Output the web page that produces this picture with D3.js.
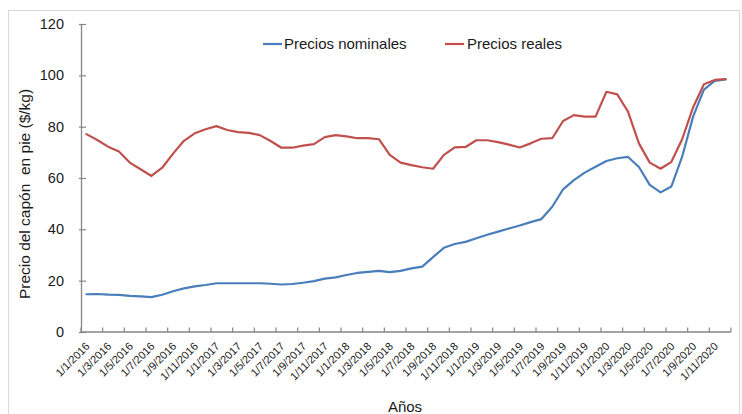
<!DOCTYPE html>
<html>
<head>
<meta charset="utf-8">
<script src="https://cdn.jsdelivr.net/npm/d3@7"></script>
<style>
  html, body { margin: 0; padding: 0; background: #fff; }
  svg { display: block; font-family: "Liberation Sans", Arial, sans-serif; }
</style>
</head>
<body>
<svg id="chart" width="742" height="414"></svg>
<script>
// ---- Data ----
const categories = [];
for (let yr = 2016; yr <= 2020; yr++) for (let m = 1; m <= 12; m++) categories.push("1/" + m + "/" + yr);

const tickLabels = [
  "1/1/2016","1/3/2016","1/5/2016","1/7/2016","1/9/2016","1/11/2016",
  "1/1/2017","1/3/2017","1/5/2017","1/7/2017","1/9/2017","1/11/2017",
  "1/1/2018","1/3/2018","1/5/2018","1/7/2018","1/9/2018","1/11/2018",
  "1/1/2019","1/3/2019","1/5/2019","1/7/2019","1/9/2019","1/11/2019",
  "1/1/2020","1/3/2020","1/5/2020","1/7/2020","1/9/2020","1/11/2020"
];

const preciosNominales = [
  14.7, 14.8, 14.6, 14.5, 14.1, 13.9, 13.6, 14.5, 15.9, 17.0,
  17.8, 18.3, 19.0, 19.0, 19.0, 19.0, 19.0, 18.8, 18.5, 18.7,
  19.2, 19.8, 20.8, 21.3, 22.2, 23.0, 23.4, 23.8, 23.3, 23.8,
  24.8, 25.5, 29.2, 32.8, 34.3, 35.1, 36.5, 37.9, 39.1, 40.3,
  41.5, 42.8, 44.0, 48.8, 55.6, 59.2, 62.1, 64.4, 66.6, 67.7,
  68.2, 64.3, 57.3, 54.4, 56.7, 68.4, 83.9, 94.4, 97.8, 98.4
];

const preciosReales = [
  77.1, 74.8, 72.2, 70.3, 66.0, 63.4, 60.8, 64.0, 69.5, 74.5,
  77.4, 79.0, 80.2, 78.7, 77.9, 77.6, 76.7, 74.4, 71.8, 71.8,
  72.6, 73.2, 75.9, 76.7, 76.2, 75.5, 75.5, 75.1, 69.0, 66.0,
  65.0, 64.2, 63.6, 69.0, 71.9, 72.1, 74.7, 74.7, 74.0, 73.0,
  71.9, 73.5, 75.3, 75.5, 82.2, 84.5, 83.9, 83.9, 93.6, 92.6,
  85.8, 73.5, 66.0, 63.6, 66.3, 75.2, 87.5, 96.5, 98.2, 98.5
];

const yTicks = [0, 20, 40, 60, 80, 100, 120];
const seriesNames = ["Precios nominales", "Precios reales"];

// ---- Layout ----
const svg = d3.select("#chart");
const pLeft = 81, pRight = 731, pTop = 24, pBottom = 332;
const axisColor = "#868686";
const textColor = "#1a1a1a";
const colors = ["#4a7ebb", "#c0504d"];

// frame
svg.append("rect").attr("x", 8.5).attr("y", 10.5).attr("width", 731).attr("height", 410)
  .attr("fill", "none").attr("stroke", "#d9d9d9").attr("stroke-width", 1);

const x = d3.scaleBand().domain(categories).range([pLeft, pRight]).paddingInner(0).paddingOuter(0);
const y = d3.scaleLinear().domain([0, 120]).range([pBottom, pTop]);
const cx = d => x(d) + x.bandwidth() / 2;

// Y axis
const yAxis = svg.append("g").attr("transform", `translate(${pLeft},0)`)
  .call(d3.axisLeft(y).tickValues(yTicks).tickSize(0).tickPadding(17));
yAxis.select(".domain").attr("stroke", axisColor).attr("stroke-width", 1.3);
yAxis.selectAll(".tick text").attr("font-size", "14.5px").attr("fill", textColor)
  .attr("font-family", "Liberation Sans, Arial, sans-serif");
yAxis.selectAll(".tick").append("line").attr("x1", -2).attr("x2", 5)
  .attr("stroke", axisColor).attr("stroke-width", 1.2);

// X axis: line and ticks at every 2nd category boundary
const xg = svg.append("g");
xg.append("line").attr("x1", pLeft).attr("x2", pRight).attr("y1", pBottom).attr("y2", pBottom)
  .attr("stroke", axisColor).attr("stroke-width", 1.3);
const boundaries = categories.filter((d, i) => i % 2 === 0).map(d => x(d)).concat([pRight]);
xg.selectAll("line.tk").data(boundaries).enter().append("line").attr("class", "tk")
  .attr("x1", d => d).attr("x2", d => d).attr("y1", pBottom).attr("y2", pBottom - 4.5)
  .attr("stroke", axisColor).attr("stroke-width", 1.2);

// X tick labels
const labelCats = categories.filter(c => tickLabels.includes(c));
xg.selectAll("text.xl").data(labelCats).enter().append("text").attr("class", "xl")
  .attr("transform", d => `translate(${cx(d) + 4},${pBottom + 15}) rotate(-45)`)
  .attr("text-anchor", "end").attr("font-size", "11px").attr("fill", textColor)
  .text(d => d);

// Lines
const series = [preciosNominales, preciosReales];
const line = d3.line().x((d, i) => cx(categories[i])).y(d => y(d));
series.forEach((s, k) => {
  svg.append("path").datum(s).attr("d", line).attr("fill", "none")
    .attr("stroke", colors[k]).attr("stroke-width", 2.2)
    .attr("stroke-linejoin", "round").attr("stroke-linecap", "round");
});

// Legend
const legendPos = [{lx: 263, tx: 284}, {lx: 445, tx: 467}];
seriesNames.forEach((name, k) => {
  const g = svg.append("g");
  g.append("line").attr("x1", legendPos[k].lx).attr("x2", legendPos[k].lx + 19)
    .attr("y1", 44).attr("y2", 44).attr("stroke", colors[k]).attr("stroke-width", 2.2);
  g.append("text").attr("x", legendPos[k].tx).attr("y", 44).attr("dy", "0.35em")
    .attr("font-size", "15px").attr("fill", textColor).text(name);
});

// Axis titles
svg.append("text").attr("transform", `translate(30,194) rotate(-90)`)
  .attr("text-anchor", "middle").attr("font-size", "15.5px").attr("fill", textColor)
  .style("white-space", "pre").text("Precio del capón  en pie ($/kg)");
svg.append("text").attr("x", 405).attr("y", 412).attr("text-anchor", "middle")
  .attr("font-size", "15px").attr("fill", textColor).text("Años");
</script>
</body>
</html>
